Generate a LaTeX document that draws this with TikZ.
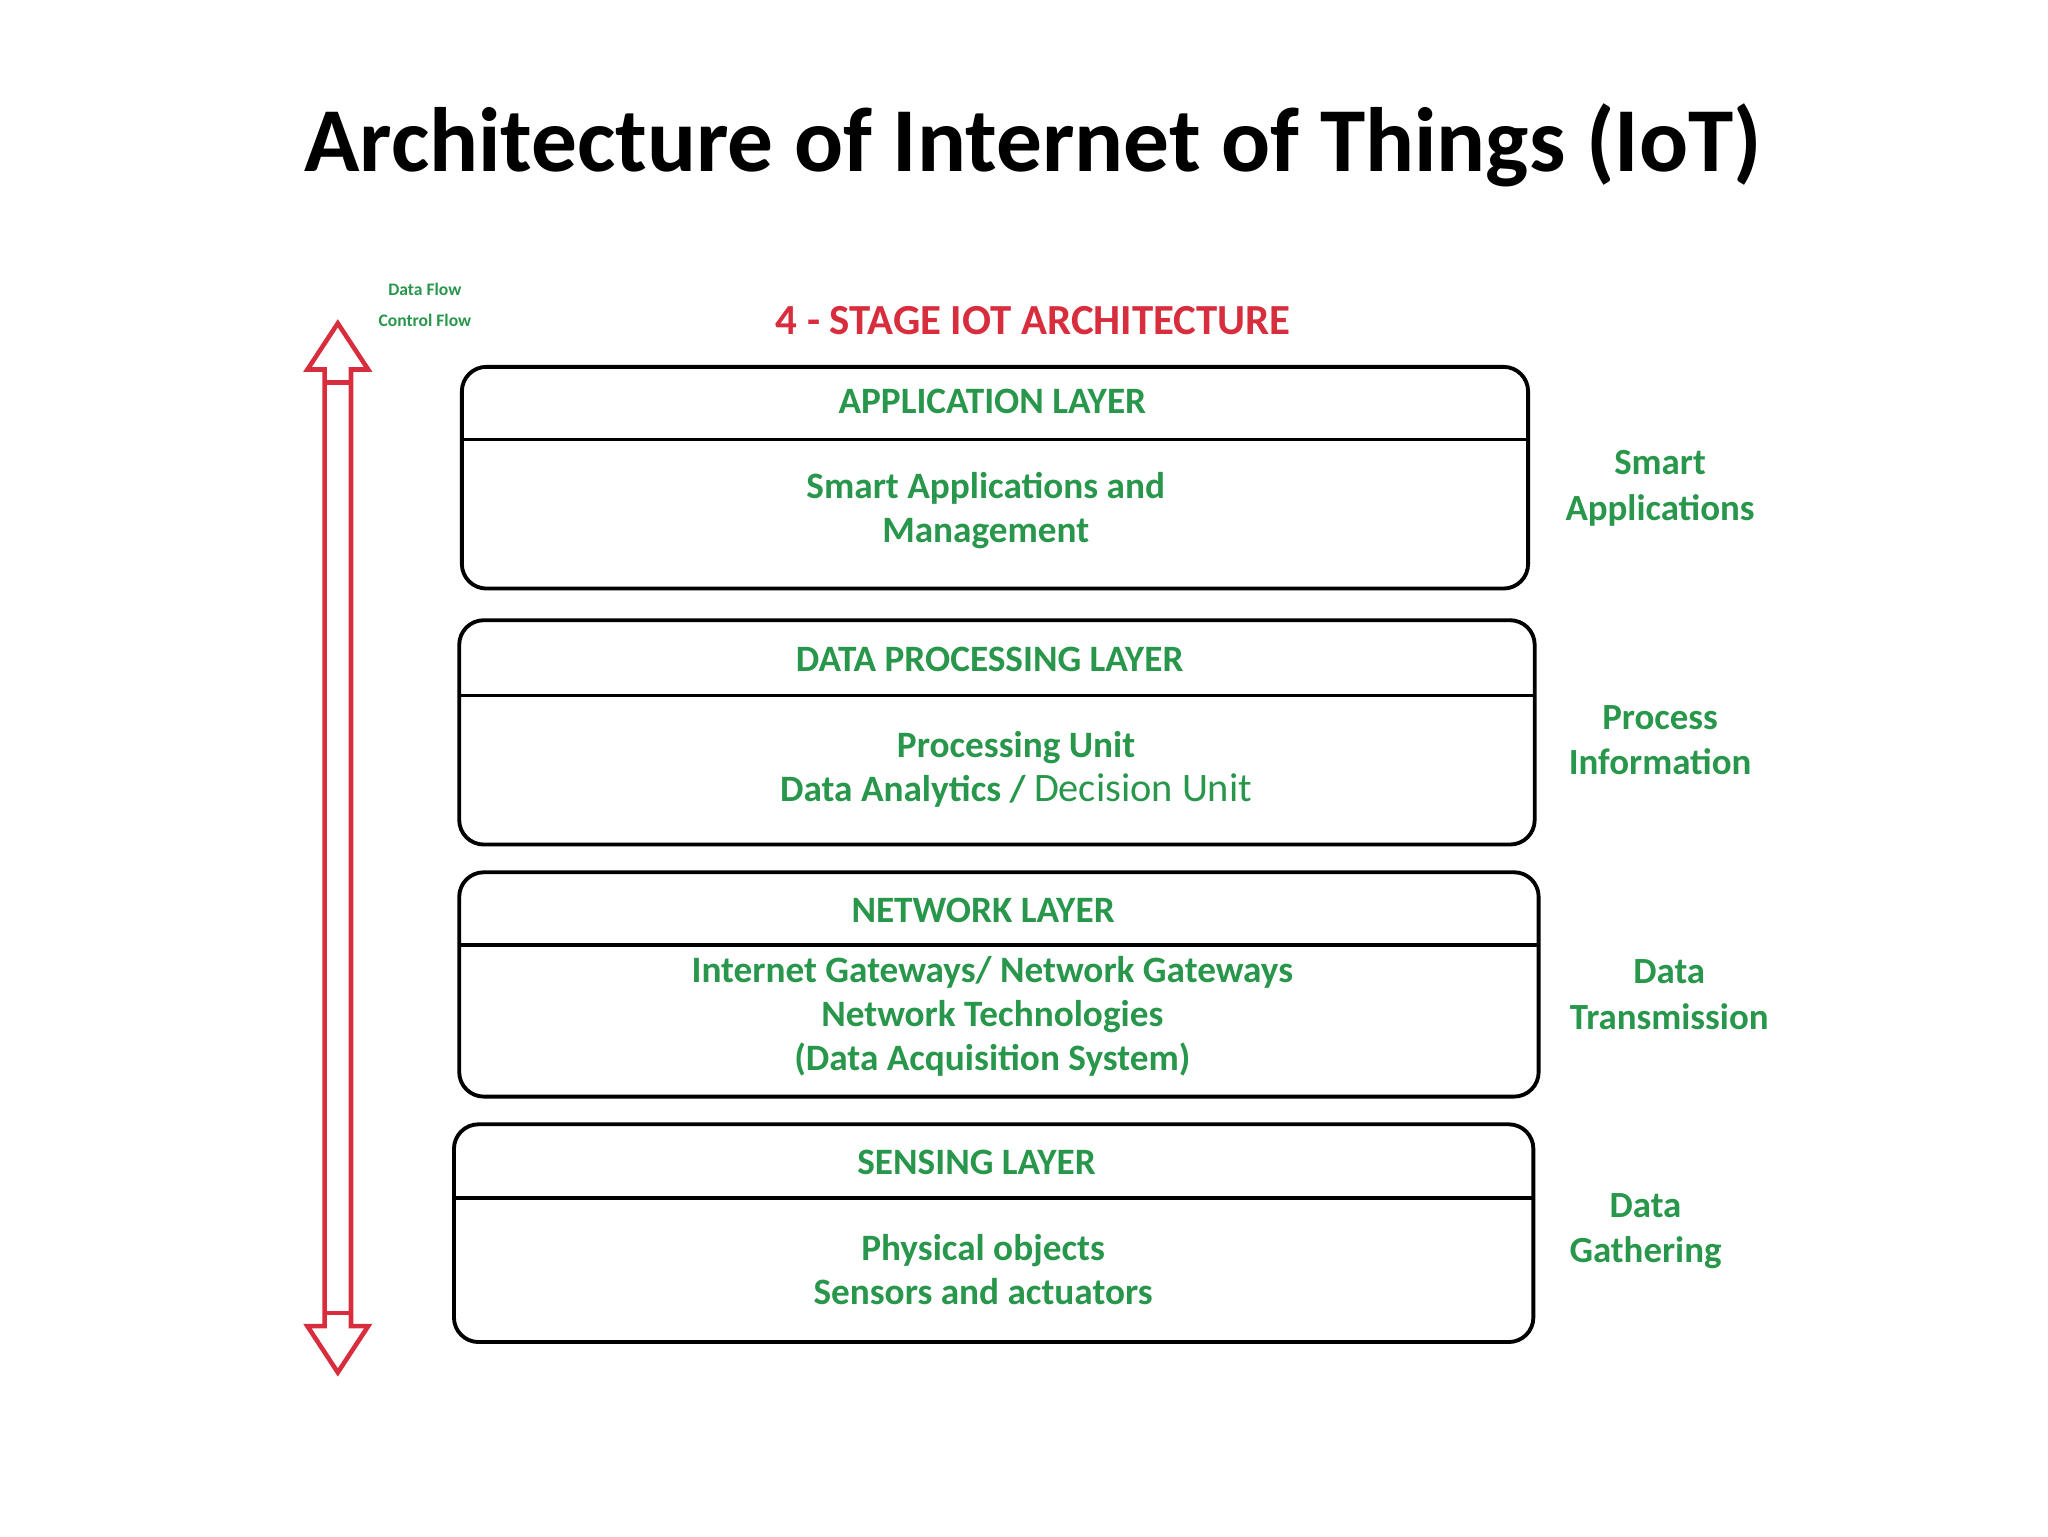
\documentclass[tikz,border=0pt]{standalone}
\usepackage{fontspec}
\setmainfont{Carlito}
\definecolor{gr}{RGB}{40,150,75}
\definecolor{rd}{RGB}{215,45,60}
\begin{document}
\begin{tikzpicture}[x=0.013196cm,y=-0.013196cm,
  layer/.style={draw=black,line width=1.1pt,rounded corners=7pt},
  gtxt/.style={text=gr,font=\fontsize{10.6}{12.5}\selectfont\bfseries,align=center},
  side/.style={text=gr,font=\fontsize{10.5}{13}\selectfont\bfseries,align=center}]
\useasboundingbox (0,0) rectangle (1552,1164);
\node[font=\fontsize{26}{30}\selectfont\bfseries] (title) at (783,110) {Architecture of Internet of Things (IoT)};
\node[text=rd,font=\fontsize{12.2}{14}\selectfont\bfseries] (head) at (783,243) {4 - STAGE IOT ARCHITECTURE};
\node[text=gr,font=\fontsize{5}{6}\selectfont\bfseries] (df) at (322,219) {Data Flow};
\node[text=gr,font=\fontsize{5}{6}\selectfont\bfseries] (cf) at (322,243) {Control Flow};
% arrow
\draw[rd,line width=1.3pt,line join=miter] (256,245) -- (279,280) -- (266,280) -- (266,1005) -- (279,1005) -- (256,1040) -- (233,1005) -- (246,1005) -- (246,280) -- (233,280) -- cycle;
\draw[rd,line width=1.3pt] (246,290) -- (266,290) (246,995) -- (266,995);
% layers
\draw[layer] (350,278) rectangle (1158,446); \draw[line width=1.1pt] (350,333) -- (1158,333);
\draw[layer] (348,470) rectangle (1163,640); \draw[line width=1.1pt] (348,527) -- (1163,527);
\draw[layer] (348,661) rectangle (1166,831); \draw[line width=1.1pt] (348,716) -- (1166,716);
\draw[layer] (344,852) rectangle (1162,1017); \draw[line width=1.1pt] (344,908) -- (1162,908);
\node[gtxt] (l1) at (752,304) {APPLICATION LAYER};
\node[gtxt] (t1) at (747,387) {Smart Applications and\\Management};
\node[gtxt] (l2) at (750,500) {DATA PROCESSING LAYER};
\node[gtxt] (t2) at (770,583) {Processing Unit\\Data Analytics / {\mdseries\fontsize{11.5}{12.5}\selectfont Decision Unit}};
\node[gtxt] (l3) at (745,690) {NETWORK LAYER};
\node[gtxt] (t3) at (752,770) {Internet Gateways/ Network Gateways\\Network Technologies\\(Data Acquisition System)};
\node[gtxt] (l4) at (740,881) {SENSING LAYER};
\node[gtxt] (t4) at (745,962) {Physical objects\\Sensors and actuators};
\node[side] (s1) at (1258,370) {Smart\\Applications};
\node[side] (s2) at (1258,561) {Process\\Information};
\node[side] (s3) at (1265,754) {Data\\Transmission};
\node[side] (s4) at (1247,933) {Data\\Gathering};
\end{tikzpicture}
\end{document}
